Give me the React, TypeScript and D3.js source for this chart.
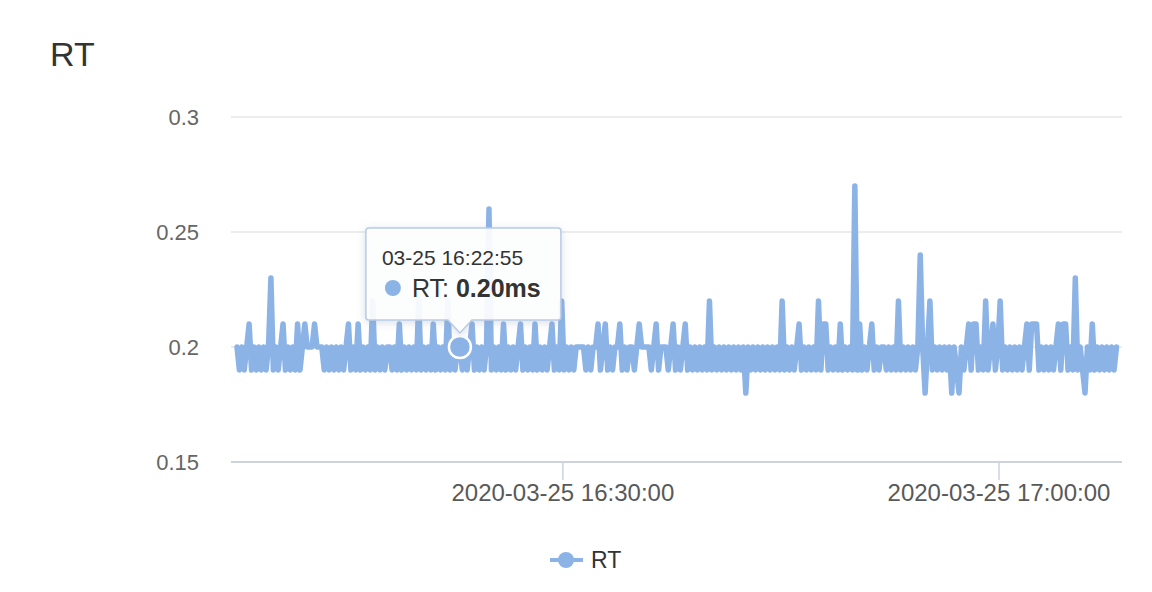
import * as d3 from "d3"

// RT samples, in hundredths of a ms, one every 10 seconds from 16:07:35
const rtHundredths = [
  20, 19, 20, 19, 20, 21, 19, 20, 19, 20, 19, 20, 19, 20, 23, 19, 20, 19, 20, 21,
  19, 20, 19, 20, 19, 21, 19, 20, 21, 20, 20, 20, 21, 20, 20, 20, 19, 20, 19, 20,
  19, 20, 19, 20, 19, 20, 21, 19, 20, 19, 21, 19, 20, 19, 20, 19, 22, 19, 20, 19,
  20, 19, 20, 20, 19, 20, 19, 21, 19, 20, 19, 20, 19, 20, 19, 22, 19, 20, 19, 20,
  19, 21, 19, 20, 19, 20, 19, 22, 19, 20, 19, 20, 20, 19, 20, 19, 20, 21, 19, 20,
  19, 20, 19, 20, 26, 19, 20, 19, 20, 19, 21, 19, 20, 19, 20, 19, 20, 21, 19, 20,
  19, 20, 19, 21, 19, 20, 19, 20, 19, 20, 21, 19, 20, 19, 22, 19, 20, 19, 20, 19,
  20, 20, 20, 20, 19, 20, 19, 20, 20, 21, 19, 20, 21, 19, 20, 19, 20, 20, 21, 19,
  20, 19, 20, 20, 19, 20, 21, 20, 20, 20, 20, 19, 20, 21, 19, 20, 20, 20, 19, 20,
  21, 19, 20, 19, 20, 21, 19, 20, 19, 20, 19, 20, 19, 20, 19, 22, 19, 20, 19, 20,
  19, 20, 19, 20, 19, 20, 19, 20, 19, 20, 18, 20, 19, 20, 19, 20, 19, 20, 19, 20,
  19, 20, 19, 20, 19, 22, 19, 20, 19, 20, 19, 20, 21, 19, 20, 19, 20, 19, 20, 19,
  22, 19, 21, 21, 19, 20, 19, 20, 19, 21, 19, 20, 19, 20, 19, 27, 19, 21, 19, 20,
  19, 20, 21, 19, 20, 19, 20, 20, 19, 20, 19, 20, 19, 22, 19, 20, 19, 20, 19, 20,
  19, 20, 24, 20, 18, 20, 22, 19, 20, 19, 20, 19, 20, 19, 20, 18, 20, 19, 18, 20,
  19, 20, 21, 19, 21, 21, 19, 20, 19, 22, 19, 20, 21, 19, 20, 22, 19, 20, 19, 20,
  19, 20, 19, 20, 19, 20, 21, 19, 21, 21, 21, 19, 20, 19, 20, 19, 20, 19, 20, 21,
  19, 21, 21, 19, 20, 19, 23, 19, 20, 19, 18, 20, 19, 21, 19, 20, 19, 20, 19, 20, 19, 20, 19, 20,
]

const startTime = new Date(2020, 2, 25, 16, 7, 35)
const stepSeconds = 10
const yTicks = [0.15, 0.2, 0.25, 0.3]
const hoverIndex = 92

const color = "#8cb3e6"
const font = "'Liberation Sans', Arial, Helvetica, sans-serif"

const data = rtHundredths.map((v, i) => ({
  time: new Date(startTime.getTime() + i * stepSeconds * 1000),
  value: v / 100
}))

const App = () => {
  const width = 1152
  const height = 592
  const plotLeft = 231
  const plotRight = 1122

  const x = d3
    .scaleTime()
    .domain([data[0].time, data[data.length - 1].time])
    .range([237, 1116.5])

  const y = d3.scaleLinear().domain([0.15, 0.3]).range([462, 117])

  const xTicks = x.ticks(d3.timeMinute.every(30)!)
  const fmtX = d3.timeFormat("%Y-%m-%d %H:%M:%S")
  const fmtTip = d3.timeFormat("%m-%d %H:%M:%S")

  const line = d3
    .line<{ time: Date; value: number }>()
    .x(d => x(d.time))
    .y(d => y(d.value))

  const hover = data[hoverIndex]
  const hx = x(hover.time)
  const hy = y(hover.value)

  // tooltip box
  const tipW = 195
  const tipH = 92
  const tipX = hx - 94
  const tipY = 228

  return (
    <svg
      width={width}
      height={height}
      style={{ position: "absolute", left: 0, top: 0, background: "#fff" }}
      fontFamily={font}
    >
      <defs>
        <filter id="tipShadow" x="-20%" y="-20%" width="140%" height="150%">
          <feDropShadow dx="0" dy="2" stdDeviation="4" floodColor="#8a9bb5" floodOpacity="0.35" />
        </filter>
      </defs>

      {/* title */}
      <text x={50} y={66} fontSize={34} fill="#333">
        RT
      </text>

      {/* grid + y labels */}
      {yTicks.map(t => (
        <g key={t}>
          <line
            x1={plotLeft}
            x2={plotRight}
            y1={y(t)}
            y2={y(t)}
            stroke={t === 0.15 ? "#ccd3de" : "#e6e6e6"}
            strokeWidth={t === 0.15 ? 2 : 1.5}
          />
          <text
            x={199}
            y={y(t)}
            dy="0.35em"
            textAnchor="end"
            fontSize={22}
            fill="#666"
          >
            {String(+t.toFixed(2))}
          </text>
        </g>
      ))}

      {/* x ticks */}
      {xTicks.map(t => (
        <g key={t.getTime()}>
          <line x1={x(t)} x2={x(t)} y1={462} y2={480} stroke="#ccd3de" strokeWidth={1.5} />
          <text x={x(t)} y={501} textAnchor="middle" fontSize={24} fill="#595959">
            {fmtX(t)}
          </text>
        </g>
      ))}

      {/* series */}
      <path
        d={line(data) || ""}
        fill="none"
        stroke={color}
        strokeWidth={5.5}
        strokeLinejoin="round"
        strokeLinecap="round"
      />

      {/* hovered point */}
      <circle cx={hx} cy={hy} r={11} fill={color} stroke="#fff" strokeWidth={2.5} />

      {/* tooltip */}
      <g filter="url(#tipShadow)">
        <path
          d={`M${tipX + 3},${tipY} H${tipX + tipW - 3} Q${tipX + tipW},${tipY} ${tipX + tipW},${tipY + 3}
              V${tipY + tipH - 3} Q${tipX + tipW},${tipY + tipH} ${tipX + tipW - 3},${tipY + tipH}
              H${hx + 12} L${hx},${tipY + tipH + 13} L${hx - 12},${tipY + tipH}
              H${tipX + 3} Q${tipX},${tipY + tipH} ${tipX},${tipY + tipH - 3}
              V${tipY + 3} Q${tipX},${tipY} ${tipX + 3},${tipY} Z`}
          fill="rgba(255,255,255,0.9)"
          stroke="#b8cbe6"
          strokeWidth={1.5}
        />
      </g>
      <text x={tipX + 16} y={tipY + 37} fontSize={21} fill="#333">
        {fmtTip(hover.time)}
      </text>
      <circle cx={tipX + 27} cy={tipY + 60} r={8} fill={color} />
      <text x={tipX + 46} y={tipY + 69} fontSize={25} fill="#333">
        RT:{" "}
        <tspan fontWeight="bold">{hover.value.toFixed(2)}ms</tspan>
      </text>

      {/* legend */}
      <line x1={550} x2={583} y1={560} y2={560} stroke={color} strokeWidth={4} />
      <circle cx={566} cy={560} r={8} fill={color} />
      <text x={591} y={568} fontSize={23} fill="#333">
        RT
      </text>
    </svg>
  )
}

export default App
